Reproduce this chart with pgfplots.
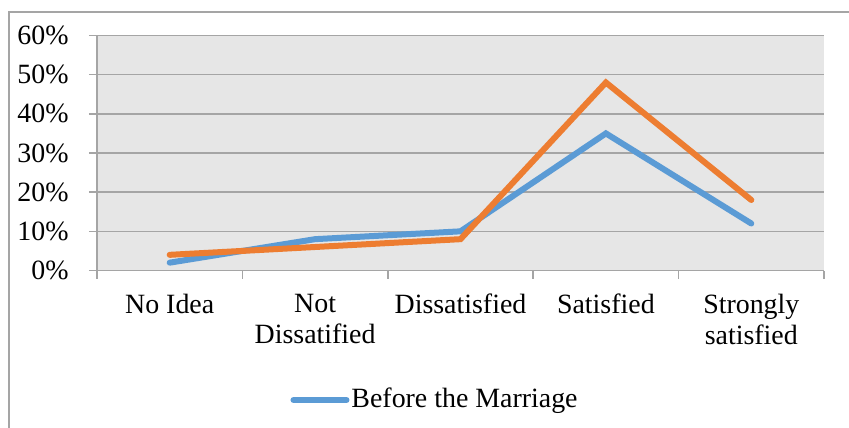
\documentclass[border=0pt]{standalone}
\usepackage{fontspec}
\setmainfont{Liberation Serif}
\usepackage{pgfplots}
\pgfplotsset{compat=1.18}
\definecolor{sblue}{HTML}{5B9BD5}
\definecolor{sorange}{HTML}{ED7D31}
\definecolor{gridgray}{HTML}{A5A5A5}
\definecolor{bggray}{HTML}{E6E6E6}
\begin{document}
\fontsize{28}{31}\selectfont
\begin{tikzpicture}
\useasboundingbox (0bp,0bp) rectangle (849bp,428bp);
\draw[gridgray, line width=1.5bp] (9bp,0bp) -- (9bp,416bp) -- (849bp,416bp);
\begin{axis}[
  at={(97bp,157.5bp)}, anchor=south west,
  scale only axis, width=727bp, height=235bp,
  xmin=-0.5, xmax=4.5, ymin=0, ymax=60,
  axis x line=bottom, axis y line=left,
  axis line style={gridgray, line width=1.5bp, -},
  axis background/.style={fill=bggray},
  xtick={-0.5,0.5,1.5,2.5,3.5,4.5}, xticklabels={},
  extra x ticks={0,1,2,3,4},
  extra x tick labels={No Idea,Not\\Dissatified,Dissatisfied,Satisfied,Strongly\\satisfied},
  extra x tick style={major tick length=0pt, xticklabel style={align=center, text depth=0pt, font=\fontsize{28}{31}\selectfont, yshift=-14bp}},
  ytick={0,10,...,60},
  yticklabels={0\%,10\%,20\%,30\%,40\%,50\%,60\%},
  yticklabel style={font=\fontsize{28}{31}\selectfont, xshift=-11bp},
  ymajorgrids,
  grid style={gridgray, line width=1.5bp},
  tick style={gridgray, line width=1.5bp},
  major tick length=8bp, tick align=outside,
  legend style={at={(0.4650,-0.551)}, anchor=center, draw=none, fill=none, font=\fontsize{28}{31}\selectfont, inner sep=0pt},
  legend image code/.code={\draw[#1] (0bp,0bp) -- (53bp,0bp);},
  clip=false,
]
\addplot[sblue, line width=6bp, line cap=round] coordinates {(0,2) (1,8) (2,10) (3,35) (4,12)};
\addlegendentry{Before the Marriage}
\addplot[sorange, line width=6bp, line cap=round, forget plot] coordinates {(0,4) (1,6) (2,8) (3,48) (4,18)};
\end{axis}
\end{tikzpicture}
\end{document}
